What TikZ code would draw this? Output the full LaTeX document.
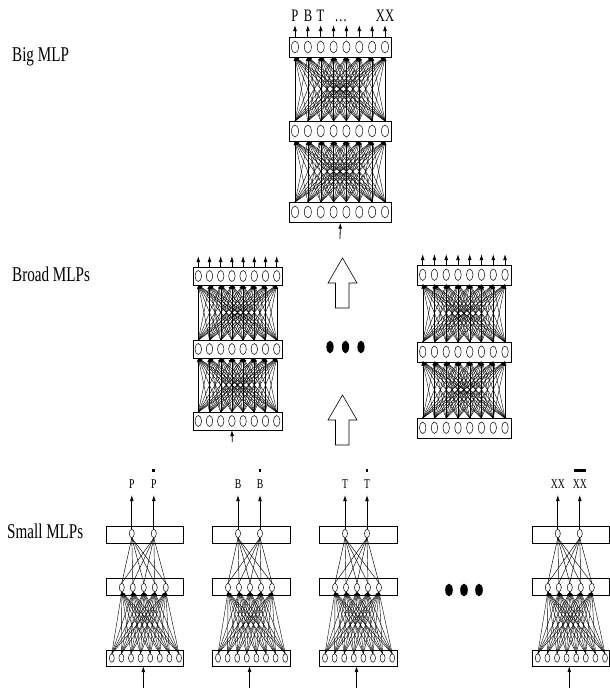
\documentclass[tikz,border=0pt]{standalone}
\usepackage{fontspec}
\setmainfont{Liberation Serif}
\usepackage{graphicx}
\usetikzlibrary{arrows.meta,shapes.geometric}

\tikzset{
  layerbox/.style={draw, line width=0.7pt, inner sep=0pt, anchor=north west},
  neuron/.style={draw, ellipse, inner sep=0pt, minimum width=\nw, minimum height=\nh, line width=0.5pt},
  meshline/.style={line width=0.4pt, -{Latex[length=4pt,width=2.8pt]}},
  plainline/.style={line width=0.45pt},
  outarrow/.style={line width=0.8pt, -{Latex[length=6pt,width=3.8pt]}},
  rowlabel/.style={inner sep=0pt, anchor=base west, font=\fontsize{21}{25}\selectfont},
  biglbl/.style={inner sep=0pt, anchor=base, font=\fontsize{17.5}{21}\selectfont},
  smalllbl/.style={inner sep=0pt, anchor=base, font=\fontsize{13.5}{15}\selectfont},
  hollow/.style={draw, line width=0.6pt, fill=white},
  bigdot/.style={fill=black}
}

% broad network: #1 name #2 L #3 R #4 first x #5 dx #6 top y #7 mid y #8 bottom y #9 box height
\newcommand\bnet[9]{%
  \foreach \L/\Y in {t/#6,m/#7,b/#8}{%
    \pgfmathsetmacro\bw{#3-#2}%
    \node[layerbox, minimum width=\bw pt, minimum height=#9pt] (#1\L) at (#2,\Y) {};
    \pgfmathsetmacro\cy{\Y+#9/2}%
    \pgfmathsetmacro\cyd{\Y+#9}%
    \foreach \i in {1,...,8}{%
      \pgfmathsetmacro\cx{#4+(\i-1)*#5}%
      \node[neuron] (#1\L\i) at (\cx,\cy) {};
      \coordinate (#1\L\i-u) at (\cx,\Y);
      \coordinate (#1\L\i-d) at (\cx,\cyd);
    }%
  }%
  \foreach \i in {1,...,8}{\foreach \j in {1,...,8}{%
    \draw[meshline] (#1m\j-u) -- (#1t\i-d);
    \draw[meshline] (#1b\j-u) -- (#1m\i-d);
  }}%
}

% small network: #1 name #2 left x #3 label #4 barred label #5 bar width
\newcommand\snet[5]{%
  \def\nw{5pt}\def\nh{8.5pt}%
  \node[layerbox, minimum width=77.5pt, minimum height=17.5pt] (#1t) at (#2,525.5) {};
  \node[layerbox, minimum width=77.5pt, minimum height=17pt] (#1m) at (#2,578) {};
  \node[layerbox, minimum width=77.5pt, minimum height=16pt] (#1b) at (#2,650) {};
  \foreach \i/\r in {1/26,2/48}{%
    \node[neuron] (#1t\i) at (#2+\r,533.5) {};
    \coordinate (#1o\i) at (#2+\r,495);
    \draw[outarrow] (#1t\i.north) -- (#1o\i);
  }%
  \foreach \j in {1,...,5}{%
    \node[neuron] (#1m\j) at (#2+16+\j*11-11,587.5) {};
  }%
  \foreach \k in {1,...,8}{%
    \node[neuron] (#1b\k) at (#2+6+\k*9.6-9.6,658) {};
  }%
  \foreach \i in {1,2}{\foreach \j in {1,...,5}{%
    \draw[plainline] (#1t\i.south) -- (#1m\j.north);
  }}%
  \foreach \j in {1,...,5}{\foreach \k in {1,...,8}{%
    \draw[meshline] (#1b\k.north) -- (#1m\j.south);
  }}%
  \node[smalllbl] (#1l1) at (#2+26,488.5) {\scalebox{0.72}[1]{#3}};
  \node[smalllbl] (#1l2) at (#2+48,488.5) {\scalebox{0.72}[1]{#4}};
  \fill (#2+48-#5/2,468.8) rectangle ++(#5,3.2);
  \coordinate (#1in) at (#2+37.5,688);
  \coordinate (#1inT) at (#2+37.5,666);
  \draw[outarrow] (#1in) -- (#1inT);
}

\begin{document}
\begin{tikzpicture}[x=1pt,y=-1pt]
\useasboundingbox[fill=white] (0,0) rectangle (610,688);

% row labels
\node[rowlabel] (lbig) at (12,61.5) {\scalebox{0.72}[1]{Big MLP}};
\node[rowlabel] (lbroad) at (12,281.5) {\scalebox{0.72}[1]{Broad MLPs}};
\node[rowlabel] (lsmall) at (7,538) {\scalebox{0.72}[1]{Small MLPs}};

% Big MLP
\def\nw{7pt}\def\nh{12pt}
\bnet{B}{289}{391}{295}{12.857}{37}{121}{202}{20}
\foreach \i in {1,...,8}{%
  \path (Bt\i-u) ++(0,-12) coordinate (Bo\i);
  \draw[outarrow] (Bt\i-u) -- (Bo\i);
}
\node[biglbl] (BlP) at (295,21.5) {\scalebox{0.72}[1]{P}};
\node[biglbl] (BlB) at (308,21.5) {\scalebox{0.72}[1]{B}};
\node[biglbl] (BlT) at (320.5,21.5) {\scalebox{0.72}[1]{T}};
\node[biglbl] (Bldots) at (341,21.5) {\scalebox{0.72}[1]{\ldots}};
\node[biglbl] (BlX) at (385,21.5) {\scalebox{0.72}[1]{XX}};
\coordinate (Bin) at (340,239);
\draw[outarrow] (Bin) -- (Bb.south);

% Broad MLP left
\def\nw{6.5pt}\def\nh{11pt}
\bnet{L}{193}{282}{198.3}{11.2}{267}{340}{412}{18}
\foreach \i in {1,...,8}{%
  \path (Lt\i-u) ++(0,-11) coordinate (Lo\i);
  \draw[outarrow] (Lt\i-u) -- (Lo\i);
}
\coordinate (Lin) at (232.3,442);
\draw[outarrow] (Lin) -- (Lb4-d);

% Broad MLP right
\def\nw{6.5pt}\def\nh{11.5pt}
\bnet{R}{417}{511}{422.7}{11.76}{265}{342}{418}{19.5}
\foreach \i in {1,...,8}{%
  \path (Rt\i-u) ++(0,-11) coordinate (Ro\i);
  \draw[outarrow] (Rt\i-u) -- (Ro\i);
}

% hollow arrows
\draw[hollow] (328,283) -- (342.5,258) -- (357,283) -- (349,283) -- (349,308) -- (335.5,308) -- (335.5,283) -- cycle;
\draw[hollow] (328,420) -- (342.5,395) -- (357,420) -- (349,420) -- (349,445) -- (335.5,445) -- (335.5,420) -- cycle;

% dots between broad MLPs
\fill[bigdot] (330,347) ellipse (3.6 and 6.3);
\fill[bigdot] (345.5,347) ellipse (3.6 and 6.3);
\fill[bigdot] (361,347) ellipse (3.6 and 6.3);

% small MLPs
\snet{S}{105.8}{P}{P}{2.8}
\snet{U}{212}{B}{B}{2.8}
\snet{V}{319}{T}{T}{2.8}
\snet{W}{531.8}{XX}{XX}{12}

% dots between small MLPs
\fill[bigdot] (449,590) ellipse (3.8 and 6.3);
\fill[bigdot] (464,590) ellipse (3.8 and 6.3);
\fill[bigdot] (479,590) ellipse (3.8 and 6.3);
\end{tikzpicture}
\end{document}
